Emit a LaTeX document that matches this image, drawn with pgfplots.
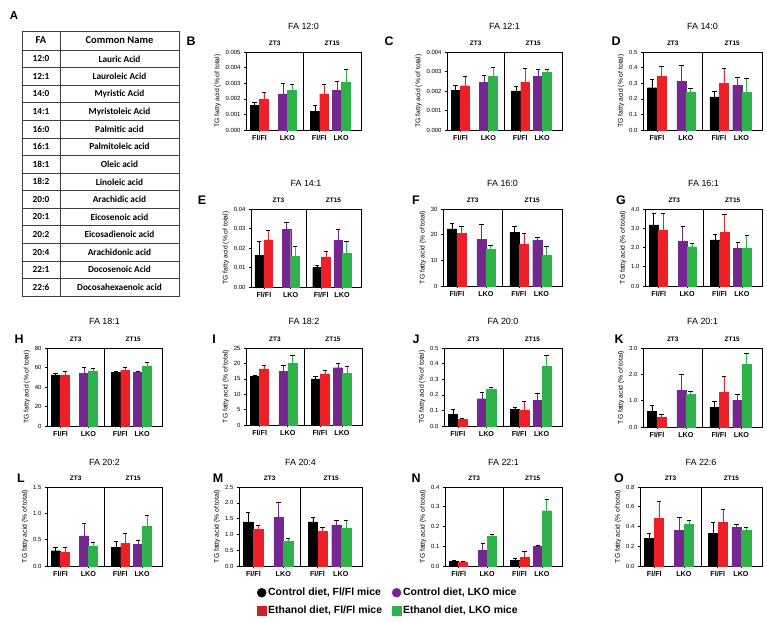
\documentclass[border=0pt]{standalone}
\usepackage{fontspec}
\setmainfont{Liberation Sans}
\newfontfamily\tabfont{Carlito}
\usepackage{pgfplots}
\pgfplotsset{compat=1.18}
\definecolor{cK}{HTML}{000000}
\definecolor{cR}{HTML}{EE2027}
\definecolor{cP}{HTML}{73278F}
\definecolor{cG}{HTML}{2EB34B}
\definecolor{cRd}{HTML}{CC2229}

\pgfplotsset{
 panel/.style={
  scale only axis, anchor=north west,
  xmin=0, xmax=4, ymin=0,
  axis line style={line width=0.7pt},
  xtick pos=bottom, ytick pos=left,
  tick style={line width=0.6pt, black},
  tick align=outside, major tick length=2bp,
  xtick={0.47,1.44,2.55,3.31},
  xticklabels={Fl/Fl,LKO,Fl/Fl,LKO},
  xticklabel style={font=\fontsize{7.2}{8}\selectfont\bfseries},
  yticklabel style={font=\fontsize{6}{7}\selectfont},
  scaled y ticks=false,
  /pgf/number format/assume math mode=true,
  /pgf/number format/fixed, /pgf/number format/fixed zerofill,
  ylabel={TG fatty acid (\% of total)},
  ylabel style={font=\fontsize{6.8}{7}\selectfont, yshift=-2bp},
  ybar, bar width=0.31, bar shift=0pt,
  clip=false,
  error bars/y dir=plus, error bars/y explicit,
  error bars/error bar style={line width=0.6pt},
  error bars/error mark options={rotate=90, mark size=2.2bp, line width=0.6pt},
 },
}
\newcommand{\decor}{%
  \draw[line width=0.7pt] (rel axis cs:0.5,0) -- (rel axis cs:0.5,1);
  \node[anchor=south, font=\fontsize{6.5}{7}\selectfont\bfseries, yshift=3bp] at (rel axis cs:0.25,1) {ZT3};
  \node[anchor=south, font=\fontsize{6.5}{7}\selectfont\bfseries, yshift=3bp] at (rel axis cs:0.75,1) {ZT15};
}

\begin{document}
\begin{tikzpicture}
\useasboundingbox (0,0) rectangle (767bp,-623bp);

% ---------- Table A ----------
\node[font=\fontsize{11.5}{12}\selectfont\bfseries] at (14bp,-16bp) {A};
\draw[line width=0.5pt, black!75] (22bp,-31bp) rectangle (179bp,-296bp);
\draw[line width=0.5pt, black!75] (60bp,-31bp) -- (60bp,-296bp);
\foreach \i in {0,...,13} \draw[line width=0.5pt, black!75] (22bp,{-(50+17.571*\i)*1bp}) -- (179bp,{-(50+17.571*\i)*1bp});
\node[font=\tabfont\fontsize{10.5}{11}\selectfont\bfseries] at (41bp,-40.5bp) {FA};
\node[font=\tabfont\fontsize{10.5}{11}\selectfont\bfseries] at (119.5bp,-40.5bp) {Common Name};
\foreach \fa/\nm [count=\i from 0] in {12:0/Lauric Acid,12:1/Lauroleic Acid,14:0/Myristic Acid,14:1/Myristoleic Acid,16:0/Palmitic acid,16:1/Palmitoleic acid,18:1/Oleic acid,18:2/Linoleic acid,20:0/Arachidic acid,20:1/Eicosenoic acid,20:2/Eicosadienoic acid,20:4/Arachidonic acid,22:1/Docosenoic Acid,22:6/Docosahexaenoic acid}{
  \node[font=\tabfont\fontsize{9.3}{10}\selectfont\bfseries] at (41bp,{-(58.8+17.571*\i)*1bp}) {\fa};
  \node[font=\tabfont\fontsize{9.3}{10}\selectfont\bfseries] at (119.5bp,{-(58.8+17.571*\i)*1bp}) {\nm};
}

% ---------- B : FA 12:0 ----------
\begin{axis}[panel, at={(246bp,-52bp)}, width=115bp, height=78bp, ymax=0.005,
  ytick={0,0.001,0.002,0.003,0.004,0.005}, /pgf/number format/precision=3]
\addplot[fill=cK,draw=cK] coordinates {(0.30,0.00156) +- (0,0.00023) (2.40,0.00120) +- (0,0.00038)};
\addplot[fill=cR,draw=cR] coordinates {(0.62,0.00199) +- (0,0.00042) (2.72,0.00231) +- (0,0.00060)};
\addplot[fill=cP,draw=cP] coordinates {(1.29,0.00231) +- (0,0.00068) (3.17,0.00256) +- (0,0.00056)};
\addplot[fill=cG,draw=cG] coordinates {(1.60,0.00256) +- (0,0.00037) (3.48,0.00308) +- (0,0.00081)};
\decor
\end{axis}
% ---------- C : FA 12:1 ----------
\begin{axis}[panel, at={(447bp,-52bp)}, width=115bp, height=78bp, ymax=0.004,
  ytick={0,0.001,0.002,0.003,0.004}, /pgf/number format/precision=3]
\addplot[fill=cK,draw=cK] coordinates {(0.30,0.00202) +- (0,0.00029) (2.40,0.00200) +- (0,0.00026)};
\addplot[fill=cR,draw=cR] coordinates {(0.62,0.00227) +- (0,0.00047) (2.72,0.00244) +- (0,0.00072)};
\addplot[fill=cP,draw=cP] coordinates {(1.29,0.00243) +- (0,0.00036) (3.17,0.00274) +- (0,0.00037)};
\addplot[fill=cG,draw=cG] coordinates {(1.60,0.00274) +- (0,0.00047) (3.48,0.00297) +- (0,0.00014)};
\decor
\end{axis}
% ---------- D : FA 14:0 ----------
\begin{axis}[panel, at={(643bp,-52bp)}, width=119bp, height=78bp, ymax=0.5,
  ytick={0,0.1,0.2,0.3,0.4,0.5}, /pgf/number format/precision=1]
\addplot[fill=cK,draw=cK] coordinates {(0.30,0.271) +- (0,0.054) (2.40,0.212) +- (0,0.036)};
\addplot[fill=cR,draw=cR] coordinates {(0.62,0.342) +- (0,0.064) (2.72,0.299) +- (0,0.096)};
\addplot[fill=cP,draw=cP] coordinates {(1.29,0.314) +- (0,0.103) (3.17,0.286) +- (0,0.052)};
\addplot[fill=cG,draw=cG] coordinates {(1.60,0.244) +- (0,0.023) (3.48,0.241) +- (0,0.090)};
\decor
\end{axis}
% ---------- E : FA 14:1 ----------
\begin{axis}[panel, at={(251bp,-209bp)}, width=110bp, height=78bp, ymax=0.04,
  ytick={0,0.01,0.02,0.03,0.04}, /pgf/number format/precision=2]
\addplot[fill=cK,draw=cK] coordinates {(0.30,0.0163) +- (0,0.0069) (2.40,0.0100) +- (0,0.0010)};
\addplot[fill=cR,draw=cR] coordinates {(0.62,0.0242) +- (0,0.0048) (2.72,0.0155) +- (0,0.0030)};
\addplot[fill=cP,draw=cP] coordinates {(1.29,0.0295) +- (0,0.0036) (3.17,0.0240) +- (0,0.0055)};
\addplot[fill=cG,draw=cG] coordinates {(1.60,0.0158) +- (0,0.0050) (3.48,0.0172) +- (0,0.0063)};
\decor
\end{axis}
% ---------- F : FA 16:0 ----------
\begin{axis}[panel, at={(443bp,-209bp)}, width=119bp, height=77bp, ymax=30,
  ytick={0,10,20,30}, /pgf/number format/precision=0]
\addplot[fill=cK,draw=cK] coordinates {(0.30,22.3) +- (0,2.0) (2.40,20.9) +- (0,2.2)};
\addplot[fill=cR,draw=cR] coordinates {(0.62,20.4) +- (0,2.8) (2.72,16.1) +- (0,4.3)};
\addplot[fill=cP,draw=cP] coordinates {(1.29,18.2) +- (0,5.7) (3.17,17.7) +- (0,1.1)};
\addplot[fill=cG,draw=cG] coordinates {(1.60,14.4) +- (0,1.3) (3.48,12.1) +- (0,3.4)};
\decor
\end{axis}
% ---------- G : FA 16:1 ----------
\begin{axis}[panel, at={(645bp,-209bp)}, width=117bp, height=77bp, ymax=4,
  ytick={0,1,2,3,4}, /pgf/number format/precision=1]
\addplot[fill=cK,draw=cK] coordinates {(0.30,3.17) +- (0,0.59) (2.40,2.39) +- (0,0.31)};
\addplot[fill=cR,draw=cR] coordinates {(0.62,2.91) +- (0,0.85) (2.72,2.77) +- (0,0.94)};
\addplot[fill=cP,draw=cP] coordinates {(1.29,2.32) +- (0,0.76) (3.17,1.97) +- (0,0.28)};
\addplot[fill=cG,draw=cG] coordinates {(1.60,2.04) +- (0,0.18) (3.48,1.97) +- (0,0.66)};
\decor
\end{axis}
% ---------- H : FA 18:1 ----------
\begin{axis}[panel, at={(47bp,-348bp)}, width=115bp, height=78bp, ymax=80,
  ytick={0,20,40,60,80}, /pgf/number format/precision=0]
\addplot[fill=cK,draw=cK] coordinates {(0.30,52.4) +- (0,1.4) (2.40,54.8) +- (0,1.4)};
\addplot[fill=cR,draw=cR] coordinates {(0.62,52.4) +- (0,3.5) (2.72,57.2) +- (0,3.1)};
\addplot[fill=cP,draw=cP] coordinates {(1.29,54.1) +- (0,5.9) (3.17,54.8) +- (0,1.4)};
\addplot[fill=cG,draw=cG] coordinates {(1.60,56.6) +- (0,2.7) (3.48,61.0) +- (0,4.2)};
\decor
\end{axis}
% ---------- I : FA 18:2 ----------
\begin{axis}[panel, at={(246bp,-348bp)}, width=116bp, height=77bp, ymax=25,
  ytick={0,5,10,15,20,25}, /pgf/number format/precision=0]
\addplot[fill=cK,draw=cK] coordinates {(0.30,15.8) +- (0,0.5) (2.40,15.0) +- (0,0.9)};
\addplot[fill=cR,draw=cR] coordinates {(0.62,18.2) +- (0,1.2) (2.72,16.6) +- (0,1.1)};
\addplot[fill=cP,draw=cP] coordinates {(1.29,17.5) +- (0,1.9) (3.17,18.6) +- (0,1.5)};
\addplot[fill=cG,draw=cG] coordinates {(1.60,20.1) +- (0,2.4) (3.48,16.7) +- (0,2.3)};
\decor
\end{axis}
% ---------- J : FA 20:0 ----------
\begin{axis}[panel, at={(444bp,-348bp)}, width=118bp, height=78bp, ymax=0.5,
  ytick={0,0.1,0.2,0.3,0.4,0.5}, /pgf/number format/precision=1]
\addplot[fill=cK,draw=cK] coordinates {(0.30,0.073) +- (0,0.035) (2.40,0.106) +- (0,0.017)};
\addplot[fill=cR,draw=cR] coordinates {(0.62,0.041) +- (0,0.006) (2.72,0.103) +- (0,0.056)};
\addplot[fill=cP,draw=cP] coordinates {(1.29,0.175) +- (0,0.041) (3.17,0.166) +- (0,0.043)};
\addplot[fill=cG,draw=cG] coordinates {(1.60,0.233) +- (0,0.013) (3.48,0.381) +- (0,0.072)};
\decor
\end{axis}
% ---------- K : FA 20:1 ----------
\begin{axis}[panel, at={(643bp,-348bp)}, width=119bp, height=79bp, ymax=3,
  ytick={0,1,2,3}, /pgf/number format/precision=1]
\addplot[fill=cK,draw=cK] coordinates {(0.30,0.60) +- (0,0.23) (2.40,0.74) +- (0,0.22)};
\addplot[fill=cR,draw=cR] coordinates {(0.62,0.38) +- (0,0.09) (2.72,1.32) +- (0,0.60)};
\addplot[fill=cP,draw=cP] coordinates {(1.29,1.38) +- (0,0.61) (3.17,1.02) +- (0,0.22)};
\addplot[fill=cG,draw=cG] coordinates {(1.60,1.24) +- (0,0.13) (3.48,2.38) +- (0,0.43)};
\decor
\end{axis}
% ---------- L : FA 20:2 ----------
\begin{axis}[panel, at={(47bp,-487bp)}, width=115bp, height=79bp, ymax=1.5,
  ytick={0,0.5,1,1.5}, /pgf/number format/precision=1]
\addplot[fill=cK,draw=cK] coordinates {(0.30,0.29) +- (0,0.07) (2.40,0.36) +- (0,0.11)};
\addplot[fill=cR,draw=cR] coordinates {(0.62,0.26) +- (0,0.10) (2.72,0.43) +- (0,0.20)};
\addplot[fill=cP,draw=cP] coordinates {(1.29,0.57) +- (0,0.24) (3.17,0.41) +- (0,0.08)};
\addplot[fill=cG,draw=cG] coordinates {(1.60,0.38) +- (0,0.07) (3.48,0.76) +- (0,0.20)};
\decor
\end{axis}
% ---------- M : FA 20:4 ----------
\begin{axis}[panel, at={(239bp,-487bp)}, width=123bp, height=79bp, ymax=2.5,
  ytick={0,0.5,1,1.5,2,2.5}, /pgf/number format/precision=1]
\addplot[fill=cK,draw=cK] coordinates {(0.30,1.40) +- (0,0.30) (2.40,1.40) +- (0,0.13)};
\addplot[fill=cR,draw=cR] coordinates {(0.62,1.16) +- (0,0.14) (2.72,1.09) +- (0,0.12)};
\addplot[fill=cP,draw=cP] coordinates {(1.29,1.54) +- (0,0.48) (3.17,1.30) +- (0,0.15)};
\addplot[fill=cG,draw=cG] coordinates {(1.60,0.79) +- (0,0.08) (3.48,1.19) +- (0,0.26)};
\decor
\end{axis}
% ---------- N : FA 22:1 ----------
\begin{axis}[panel, at={(445bp,-487bp)}, width=117bp, height=79bp, ymax=0.4,
  ytick={0,0.1,0.2,0.3,0.4}, /pgf/number format/precision=1]
\addplot[fill=cK,draw=cK] coordinates {(0.30,0.025) +- (0,0.006) (2.40,0.030) +- (0,0.010)};
\addplot[fill=cR,draw=cR] coordinates {(0.62,0.020) +- (0,0.003) (2.72,0.045) +- (0,0.030)};
\addplot[fill=cP,draw=cP] coordinates {(1.29,0.080) +- (0,0.035) (3.17,0.100) +- (0,0.005)};
\addplot[fill=cG,draw=cG] coordinates {(1.60,0.150) +- (0,0.012) (3.48,0.280) +- (0,0.060)};
\decor
\end{axis}
% ---------- O : FA 22:6 ----------
\begin{axis}[panel, at={(640bp,-487bp)}, width=122bp, height=79bp, ymax=0.8,
  ytick={0,0.2,0.4,0.6,0.8}, /pgf/number format/precision=1]
\addplot[fill=cK,draw=cK] coordinates {(0.30,0.28) +- (0,0.05) (2.40,0.33) +- (0,0.11)};
\addplot[fill=cR,draw=cR] coordinates {(0.62,0.48) +- (0,0.18) (2.72,0.44) +- (0,0.13)};
\addplot[fill=cP,draw=cP] coordinates {(1.29,0.36) +- (0,0.13) (3.17,0.39) +- (0,0.03)};
\addplot[fill=cG,draw=cG] coordinates {(1.60,0.42) +- (0,0.04) (3.48,0.36) +- (0,0.03)};
\decor
\end{axis}

% ---------- titles & letters ----------
\begin{scope}[every node/.style={font=\fontsize{9}{10}\selectfont}]
\node at (303.5bp,-26bp) {FA 12:0};
\node at (504.5bp,-26bp) {FA 12:1};
\node at (702.5bp,-26bp) {FA 14:0};
\node at (306bp,-183bp) {FA 14:1};
\node at (502.5bp,-183bp) {FA 16:0};
\node at (703.5bp,-183bp) {FA 16:1};
\node at (104.5bp,-321bp) {FA 18:1};
\node at (304bp,-321bp) {FA 18:2};
\node at (503bp,-321bp) {FA 20:0};
\node at (702.5bp,-321bp) {FA 20:1};
\node at (104.5bp,-462bp) {FA 20:2};
\node at (300.5bp,-462bp) {FA 20:4};
\node at (503.5bp,-462bp) {FA 22:1};
\node at (701bp,-462bp) {FA 22:6};
\end{scope}
\begin{scope}[every node/.style={font=\fontsize{12.5}{13}\selectfont\bfseries}]
\node at (191bp,-41bp) {B};
\node at (389bp,-41bp) {C};
\node at (616bp,-41bp) {D};
\node at (202bp,-200bp) {E};
\node at (416bp,-200bp) {F};
\node at (621bp,-200bp) {G};
\node at (19bp,-339bp) {H};
\node at (214bp,-339bp) {I};
\node at (416bp,-339bp) {J};
\node at (619bp,-339bp) {K};
\node at (21bp,-478bp) {L};
\node at (218bp,-478bp) {M};
\node at (416bp,-478bp) {N};
\node at (619bp,-478bp) {O};
\end{scope}

% ---------- legend ----------
\begin{axis}[hide axis, scale only axis, width=10bp, height=10bp, anchor=north west,
  at={(257bp,-586bp)}, xmin=0, xmax=1, ymin=0, ymax=1,
  legend columns=2,
  legend style={at={(0,1)}, anchor=north west, draw=none, fill=none, inner sep=0pt,
    font=\fontsize{10.5}{12}\selectfont\bfseries, row sep=5bp,
    /tikz/every even column/.append style={column sep=8bp}},
  legend cell align=left,
  legend image code/.code={\draw[mark repeat=2,mark phase=2,#1] plot coordinates {(0bp,0bp) (4.5bp,0bp) (9bp,0bp)};}]
\addlegendimage{only marks, mark=*, mark size=4.5bp, cK}
\addlegendentry{Control diet, Fl/Fl mice}
\addlegendimage{only marks, mark=*, mark size=4.5bp, cP}
\addlegendentry{Control diet, LKO mice}
\addlegendimage{only marks, mark=square*, mark size=4.3bp, cRd}
\addlegendentry{Ethanol diet, Fl/Fl mice}
\addlegendimage{only marks, mark=square*, mark size=4.3bp, cG}
\addlegendentry{Ethanol diet, LKO mice}
\end{axis}
\end{tikzpicture}
\end{document}
